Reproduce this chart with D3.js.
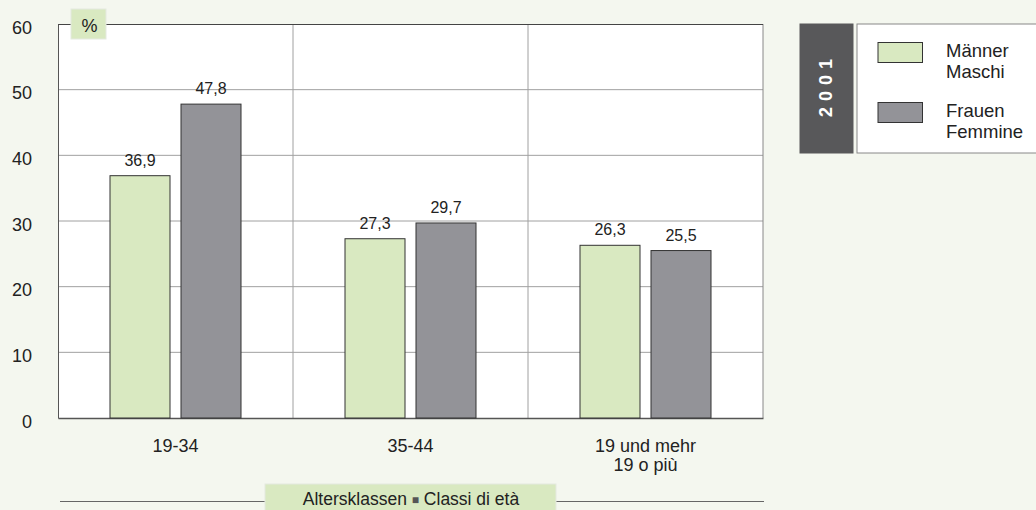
<!DOCTYPE html>
<html><head><meta charset="utf-8">
<script src="https://cdn.jsdelivr.net/npm/d3@7"></script>
<style>
body{margin:0;background:#f4f7ef;}
svg{display:block;font-family:"Liberation Sans",Arial,sans-serif;}
</style></head>
<body><svg id="c" width="1036" height="510"></svg>
<script>
const categories = [["19-34"], ["35-44"], ["19 und mehr", "19 o più"]];
const seriesNames = [["Männer", "Maschi"], ["Frauen", "Femmine"]];
const maenner = [36.9, 27.3, 26.3];
const frauen = [47.8, 29.7, 25.5];
const yTicks = [0, 10, 20, 30, 40, 50, 60];
const colors = ["#d9e9c1", "#939398"];

const svg = d3.select("#c");
const L = 58, R = 763, T = 24, B = 418;
const x = d3.scaleBand().domain(d3.range(categories.length)).range([L, R]);
const y = d3.scaleLinear().domain([0, 60]).range([B, T]);

svg.append("rect").attr("x", L).attr("y", T).attr("width", R - L).attr("height", B - T).attr("fill", "#fff");

// horizontal gridlines
svg.append("g").selectAll("line").data(yTicks.filter(d => d > 0 && d < 60)).join("line")
  .attr("x1", L).attr("x2", R).attr("y1", d => y(d)).attr("y2", d => y(d))
  .attr("stroke", "#a0a0a0").attr("stroke-width", 1);
// vertical gridlines
svg.append("g").selectAll("line").data(d3.range(1, categories.length)).join("line")
  .attr("x1", d => x(d)).attr("x2", d => x(d)).attr("y1", T).attr("y2", B)
  .attr("stroke", "#a0a0a0");

// border
svg.append("line").attr("x1", R).attr("x2", R).attr("y1", T).attr("y2", B).attr("stroke", "#888");
svg.append("line").attr("x1", L).attr("x2", R).attr("y1", T + 0.5).attr("y2", T + 0.5).attr("stroke", "#444");

// y axis
const yAxis = d3.axisLeft(y).tickValues(yTicks).tickSize(0).tickPadding(26);
const gy = svg.append("g").attr("transform", `translate(${L},0)`).call(yAxis);
gy.select(".domain").attr("stroke", "#555");
gy.selectAll("text").attr("font-size", 18).attr("dy", "0.5em").attr("fill", "#222")
  .attr("font-family", "Liberation Sans, Arial, sans-serif");

// x axis
const gx = svg.append("g").attr("transform", `translate(0,${B})`)
  .call(d3.axisBottom(x).tickSize(0).tickFormat(""));
gx.select(".domain").attr("stroke", "#555").attr("stroke-width", 1.5);
const xl = svg.append("g").selectAll("text").data(categories).join("text")
  .attr("x", (d, i) => x(i) + x.bandwidth() / 2).attr("y", 452)
  .attr("text-anchor", "middle").attr("font-size", 18).attr("fill", "#222");
xl.each(function(d) {
  const t = d3.select(this);
  d.forEach((s, k) => t.append("tspan").attr("x", t.attr("x")).attr("dy", k ? 19 : 0).text(s));
});

// bars
const bw = 60, gap = 11;
const data = [maenner, frauen];
data.forEach((vals, s) => {
  const off = s === 0 ? -(gap / 2 + bw) : gap / 2;
  const g = svg.append("g");
  g.selectAll("rect").data(vals).join("rect")
    .attr("x", (d, i) => x(i) + x.bandwidth() / 2 + off)
    .attr("y", d => y(d)).attr("width", bw).attr("height", d => B - y(d))
    .attr("fill", colors[s]).attr("stroke", "#333").attr("stroke-width", 1);
  g.selectAll("text").data(vals).join("text")
    .attr("x", (d, i) => x(i) + x.bandwidth() / 2 + off + bw / 2)
    .attr("y", d => y(d) - 10).attr("text-anchor", "middle")
    .attr("font-size", 16).attr("fill", "#222")
    .text(d => d3.format(".1f")(d).replace(".", ","));
});

// % box
svg.append("rect").attr("x", 71).attr("y", 9).attr("width", 35).attr("height", 30)
  .attr("fill", "#d9e9c1").attr("stroke", "#e4e9df");
svg.append("text").attr("x", 89.5).attr("y", 32.3).attr("text-anchor", "middle")
  .attr("font-size", 18).attr("fill", "#222").text("%");

// legend
svg.append("rect").attr("x", 799.5).attr("y", 23.5).attr("width", 54).attr("height", 130).attr("fill", "#58585a");
svg.append("text").attr("transform", "translate(832.3,85) rotate(-90)")
  .attr("text-anchor", "middle").attr("font-size", 18).attr("font-weight", "bold")
  .attr("fill", "#fff").attr("letter-spacing", 6).text("2001");
svg.append("rect").attr("x", 857).attr("y", 24).attr("width", 185).attr("height", 129)
  .attr("fill", "#fff").attr("stroke", "#888");
const lg = svg.append("g").selectAll("g").data(seriesNames).join("g")
  .attr("transform", (d, i) => `translate(0,${i * 60})`);
lg.append("rect").attr("x", 878).attr("y", 42.5).attr("width", 44.5).attr("height", 20)
  .attr("fill", (d, i) => colors[i]).attr("stroke", "#333");
lg.append("text").attr("x", 946).attr("y", 56.7).attr("font-size", 18.5).attr("fill", "#222").text(d => d[0]);
lg.append("text").attr("x", 946).attr("y", 77.7).attr("font-size", 18.5).attr("fill", "#222").text(d => d[1]);

// x axis title
svg.append("line").attr("x1", 60).attr("x2", 764).attr("y1", 501.5).attr("y2", 501.5).attr("stroke", "#666");
svg.append("rect").attr("x", 265).attr("y", 484).attr("width", 291).attr("height", 30)
  .attr("fill", "#d9e9c1").attr("stroke", "#e4e9df");
const tt = svg.append("text").attr("x", 411).attr("y", 505).attr("text-anchor", "middle")
  .attr("font-size", 17.5).attr("fill", "#222");
tt.append("tspan").text("Altersklassen ");
tt.append("tspan").attr("font-size", 12).attr("fill", "#555").attr("dy", -1).text("\u25A0");
tt.append("tspan").attr("dy", 1).text(" Classi di età");
</script></body></html>
